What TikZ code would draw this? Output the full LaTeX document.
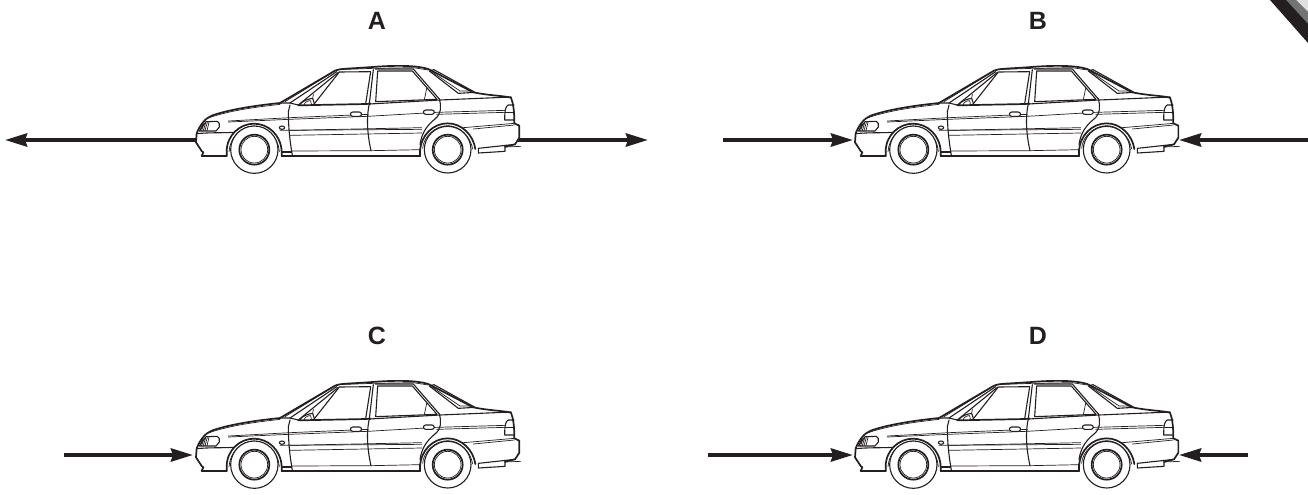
\documentclass[tikz,border=0pt]{standalone}
\usepackage{fontspec}
\setmainfont{Liberation Sans}
\usetikzlibrary{arrows.meta}
\definecolor{ink}{HTML}{231F20}
\tikzset{
  force/.style={draw=ink,line width=2pt,-{Stealth[length=11pt,width=6.5pt,inset=1pt]}},
  carlabel/.style={font=\bfseries\fontsize{12.5}{14}\selectfont,text=ink,inner sep=0pt,anchor=center},
  thin line/.style={draw=ink,line width=.35pt,line join=round,line cap=round},
  mid line/.style={draw=ink,line width=.55pt,line join=round,line cap=round},
  thick line/.style={draw=ink,line width=.85pt,line join=round,line cap=round},
  car/.pic={
    \begin{scope}[x=.16667pt,y=-.16667pt]
    % body fill
    \fill[white] (48,262) -- (50,235) .. controls (60,205) and (75,190) .. (95,182) .. controls (160,160) and (240,150) .. (300,143) -- (475,42) .. controls (560,32) and (680,28) .. (745,42) -- (880,112) .. controls (930,122) and (970,122) .. (993,128) -- (1003,205) -- (1018,212) -- (1018,250) -- (1005,272) -- (975,290) -- (895,295) -- (885,300) -- (720,304) -- (305,304) -- (140,304) -- (65,304) -- (65,290) -- cycle;
    % outer shell
    \path[thick line] (300,144) .. controls (240,150) and (150,162) .. (95,182) .. controls (75,190) and (60,210) .. (50,235) -- (48,262) -- (65,288) -- (70,292) -- (65,303) -- (140,303);
    \path[thin line] (82,190) .. controls (150,165) and (240,155) .. (300,148);
    \path[thick line] (300,144) -- (465,47) .. controls (480,40) and (500,42) .. (590,35) .. controls (650,31) and (710,31) .. (745,42) -- (880,112) .. controls (930,122) and (970,122) .. (993,128) .. controls (1000,145) and (1003,170) .. (1003,205) -- (1018,212) -- (1018,248) -- (1005,268) -- (975,275);
    \path[mid line] (1005,268) -- (895,280) -- (895,294) -- (975,289) -- (975,275);
    \path[thin line] (975,276) -- (1022,274);
    % windscreen
    \path[mid line] (300,144) -- (330,144) -- (470,50);
    \path[mid line] (330,144) -- (355,150) -- (475,52);
    \path[thin line] (315,140) -- (458,52);
    % front side window
    \path[mid line] (400,150) -- (478,51) -- (572,50) -- (557,146);
    \path[thick line] (355,151) -- (557,147) -- (572,146);
    \path[mid line] (580,44) -- (568,146);
    \path[thin line] (470,44) -- (580,40) -- (700,38) -- (745,45);
    % mirror
    \path[mid line] (358,150) .. controls (368,137) and (385,132) .. (398,130) -- (405,152);
    \path[thin line] (372,152) .. controls (372,142) and (385,136) .. (392,137) -- (395,152);
    \path[thin line] (400,118) -- (398,130);
    % rear door window
    \path[mid line] (593,48) -- (697,48) -- (771,133) -- (587,140) -- cycle;
    \path[mid line] (586,42) -- (700,42) -- (778,132);
    \path[thin line] (740,100) -- (733,134);
    % rear quarter window
    \path[mid line] (748,48) -- (835,115) -- (885,112) -- (762,44) -- cycle;
    \path[thin line] (755,50) -- (840,108) -- (875,108);
    % belt line
    \path[mid line] (568,147) -- (780,135) -- (993,126);
    % pillars and doors
    \path[mid line] (325,170) -- (330,150);
    \path[mid line] (325,170) .. controls (325,220) and (330,260) .. (337,301);
    \path[mid line] (568,146) .. controls (560,180) and (560,230) .. (573,287);
    \path[mid line] (778,132) .. controls (784,155) and (785,175) .. (765,192) .. controls (740,212) and (725,235) .. (720,268);
    % side mouldings
    \path[thin line] (145,198) -- (330,188) -- (565,178);
    \path[thin line] (145,201) -- (326,193) -- (563,184) -- (770,172) -- (975,166);
    \path[thin line] (770,178) -- (975,172);
    \path[thin line] (328,226) -- (725,218);
    \path[thin line] (300,226) -- (725,223);
    \path[thin line] (330,241) -- (725,234);
    \path[thin line] (850,218) -- (1003,205);
    \path[thin line] (880,222) -- (1003,210);
    % sills
    \path[thin line] (335,288) -- (573,287) -- (720,284);
    \path[thick line] (305,303) -- (720,303);
    \path[mid line] (305,291) -- (335,291);
    \path[mid line] (720,303) -- (720,284);
    % handles
    \path[mid line,rounded corners=1.2pt,fill=white] (511,171) rectangle (545,184);
    \path[mid line,rounded corners=1.2pt,fill=white] (730,165) rectangle (763,178);
    % headlamp
    \path[mid line] (78,200) -- (112,199) .. controls (118,200) and (119,208) .. (118,216) -- (108,228) -- (58,228) -- cycle;
    \path[thin line] (68,207) -- (60,226) (72,204) -- (65,227) (77,203) -- (70,227) (82,202) -- (75,227) (87,202) -- (81,227);
    % bumper crease and marker
    \path[mid line] (50,236) .. controls (90,232) and (130,234) .. (160,232);
    \path[mid line,fill=white] (306,218) ellipse[x radius=8,y radius=5];
    % tail lamp
    \path[mid line] (1002,150) -- (985,150) .. controls (977,153) and (974,165) .. (974,195) -- (1003,195);
    \path[thin line] (975,172) -- (1003,172);
    % arches
    \path[thick line] (140,303) -- (140,290) .. controls (140,240) and (180,206) .. (222,206) .. controls (265,206) and (303,240) .. (305,290) -- (305,303);
    \path[thick line] (720,303) -- (720,290) .. controls (722,240) and (760,205) .. (803,205) .. controls (845,205) and (880,240) .. (886,282);
    \path[thin line] (147,290) .. controls (150,245) and (185,213) .. (222,213) .. controls (260,213) and (295,245) .. (298,290);
    \path[thin line] (728,280) .. controls (730,245) and (765,212) .. (803,212) .. controls (840,212) and (872,245) .. (878,282);
    % wheels
    \path[mid line,fill=white] (223,284) circle[radius=71];
    \path[thick line] (223,284) circle[radius=45];
    \path[thin line] (223,284) circle[radius=40];
    \path[mid line,fill=white] (803,284) circle[radius=70];
    \path[thick line] (803,284) circle[radius=45];
    \path[thin line] (803,284) circle[radius=40];
    \end{scope}
  }
}
\begin{document}
\begin{tikzpicture}[x=.5pt,y=-.5pt]
\useasboundingbox (0,0) rectangle (1308,494);
% corner of the page
\begin{scope}
\clip (0,0) rectangle (1308,494);
\fill[black!12] (1290,0) -- (1308,0) -- (1308,18) -- cycle;
\fill[black!55] (1284,0) -- (1296,0) -- (1308,12) -- (1308,26) -- cycle;
\fill[ink] (1270,0) -- (1286,0) -- (1308,24) -- (1308,43) -- cycle;
\end{scope}
% labels
\node[carlabel] (labelA) at (377,21) {A};
\node[carlabel] (labelB) at (1038,21) {B};
\node[carlabel] (labelC) at (377,336) {C};
\node[carlabel] (labelD) at (1038,336) {D};
% arrow ends
\coordinate (a1) at (197,140); \coordinate (a2) at (5,140);
\coordinate (a3) at (518,140); \coordinate (a4) at (648,140);
\coordinate (b1) at (723,140); \coordinate (b2) at (853,140);
\coordinate (b3) at (1308,140); \coordinate (b4) at (1179,140);
\coordinate (c1) at (64,455); \coordinate (c2) at (193,455);
\coordinate (d1) at (708,455); \coordinate (d2) at (853,455);
\coordinate (d3) at (1248,455); \coordinate (d4) at (1179,455);
\draw[force] (a1) -- (a2);
\draw[force] (a3) -- (a4);
\draw[force] (b1) -- (b2);
\draw[force] (b3) -- (b4);
\draw[force] (c1) -- (c2);
\draw[force] (d1) -- (d2);
\draw[force] (d3) -- (d4);
% cars
\pic at (180,55) {car};
\pic at (839,55) {car};
\pic at (180,370) {car};
\pic at (839,370) {car};
\end{tikzpicture}
\end{document}
